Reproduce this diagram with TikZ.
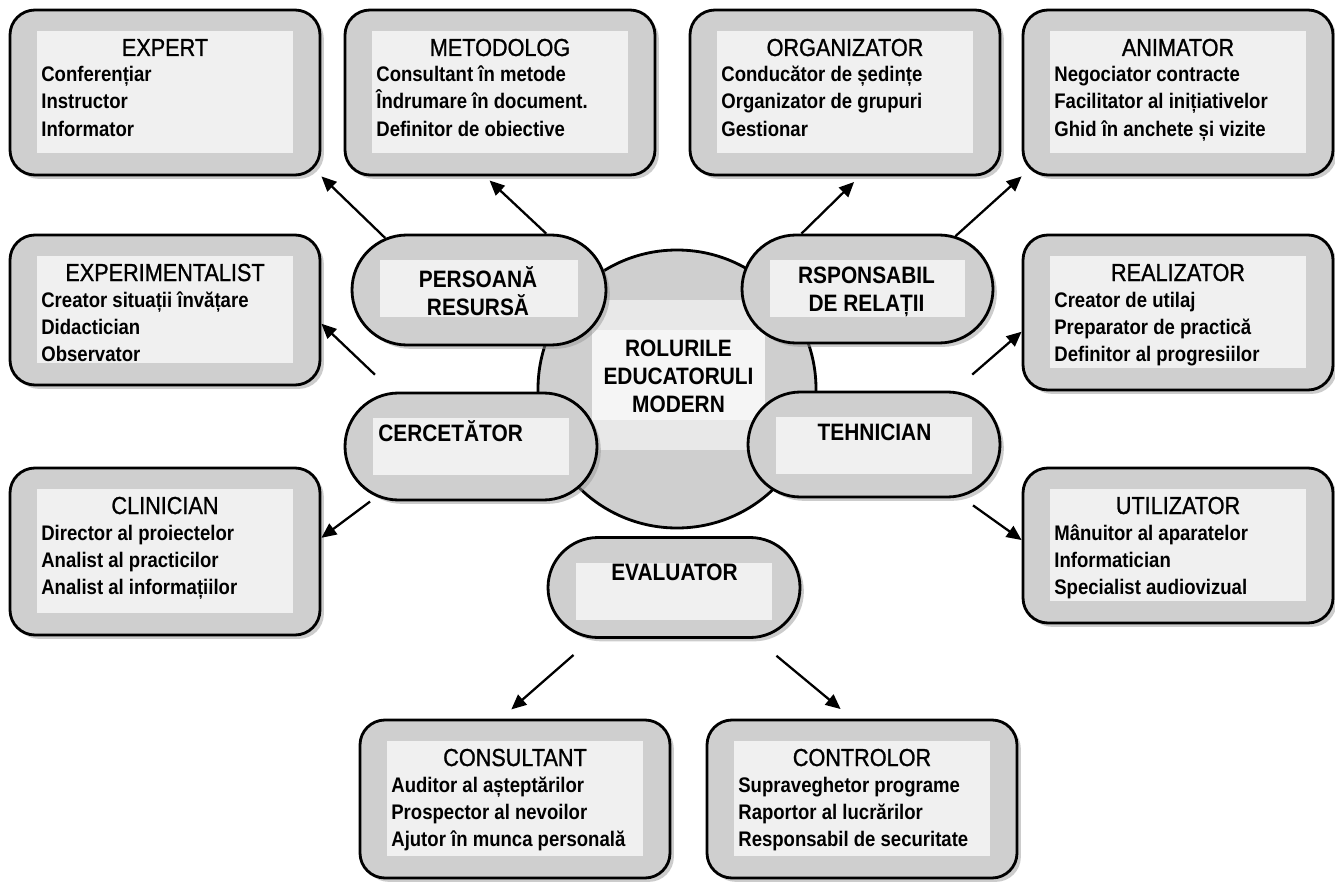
\documentclass[tikz,border=0pt]{standalone}
\usepackage{fontspec}
\setmainfont{Liberation Sans}[FakeStretch=0.88]
\newfontfamily\titlefont{Liberation Sans}[FakeStretch=0.88, FakeBold=1]
\usetikzlibrary{shapes.misc,shadows,arrows.meta}

\definecolor{boxgray}{gray}{0.81}
\definecolor{innergray}{gray}{0.94}

\begin{document}
\begin{tikzpicture}
  [x=0.02cm, y=-0.02cm,
   rolebox/.style={draw, line width=1.6pt, fill=boxgray, rounded corners=0.5cm,
     minimum width=310*0.02cm, inner sep=0pt,
     drop shadow={shadow xshift=2.2pt, shadow yshift=-2.2pt, fill=black!40}},
   pill/.style={rounded rectangle, draw, line width=1.6pt, fill=boxgray, inner sep=0pt,
     drop shadow={shadow xshift=2.2pt, shadow yshift=-2.2pt, fill=black!40}},
   rolefill/.style={fill=innergray},
   ttl/.style={font=\titlefont\fontsize{14}{16}\selectfont, inner sep=0pt},
   itm/.style={font=\bfseries\fontsize{12}{15}\selectfont, inner sep=0pt},
   ptxt/.style={font=\bfseries\fontsize{13.5}{15.9}\selectfont, align=center, inner sep=0pt},
   arr/.style={line width=1.3pt, -{Triangle[length=8.5pt,width=7.5pt]}}]
  \useasboundingbox (0,0) rectangle (1335,882);

  % role boxes
  \foreach \n/\x/\y/\h/\t/\a/\b/\c in {
    expert/10/10/165/EXPERT/Conferențiar/Instructor/Informator,
    metod/345/10/165/METODOLOG/Consultant în metode/Îndrumare în document./Definitor de obiective,
    organiz/690/10/165/ORGANIZATOR/Conducător de ședințe/Organizator de grupuri/Gestionar,
    animat/1023/10/165/ANIMATOR/Negociator contracte/Facilitator al inițiativelor/Ghid în anchete și vizite,
    experim/10/235/150/EXPERIMENTALIST/Creator situații învățare/Didactician/Observator,
    realiz/1023/235/155/REALIZATOR/Creator de utilaj/Preparator de practică/Definitor al progresiilor,
    clinic/10/468/167/CLINICIAN/Director al proiectelor/Analist al practicilor/Analist al informațiilor,
    utiliz/1023/468/155/UTILIZATOR/Mânuitor al aparatelor/Informatician/Specialist audiovizual,
    consult/360/720/158/CONSULTANT/Auditor al așteptărilor/Prospector al nevoilor/Ajutor în munca personală,
    control/707/720/158/CONTROLOR/Supraveghetor programe/Raportor al lucrărilor/Responsabil de securitate}
  {
    \node[rolebox, minimum height=\h*0.02cm] (\n) at (\x+155,\y+\h/2) {};
    \fill[rolefill] (\x+27,\y+21) rectangle (\x+283,\y+\h-22);
    \node[ttl, anchor=base] (\n-t) at (\x+155,\y+46) {\t};
    \node[itm, anchor=base west] (\n-a) at (\x+31,\y+72) {\a};
    \node[itm, anchor=base west] (\n-b) at (\x+31,\y+99) {\b};
    \node[itm, anchor=base west] (\n-c) at (\x+31,\y+126) {\c};
  }

  % centre
  \node[circle, draw, line width=1.6pt, fill=boxgray, minimum size=278*0.02cm] (hub) at (677,389) {};
  \fill[black!9] (592,300) rectangle (765,450);
  \fill[black!4] (592,330) rectangle (765,420);
  \node[ptxt, font=\bfseries\fontsize{13.5}{16}\selectfont] (hub-t) at (678.5,376) {ROLURILE\\EDUCATORULI\\MODERN};

  % roles round the centre
  \foreach \n/\x/\y/\w/\h in {pers/479/290/254/110, cerc/471/446.5/252/107,
    resp/867.5/289/251/108, tehn/874/444.5/252/105, eval/674/587.5/252/100}
  {
    \node[pill, minimum width=\w*0.02cm, minimum height=\h*0.02cm] (\n) at (\x,\y) {};
    \fill[rolefill] (\x-\w/2+28,\y-\h/2+25) rectangle (\x+\w/2-28,\y-\h/2+82);
  }
  \node[ptxt] (pers-t) at (478,291) {PERSOANĂ\\RESURSĂ};
  \node[ptxt] (resp-t) at (866.5,292) {RSPONSABIL\\DE RELAȚII};
  \node[ptxt, anchor=base west] (cerc-t) at (378,441) {CERCETĂTOR};
  \node[ptxt, anchor=base] (tehn-t) at (874.5,440.5) {TEHNICIAN};
  \node[ptxt, anchor=base] (eval-t) at (674.5,580.5) {EVALUATOR};

  % arrows
  \foreach \a/\b/\s/\e in {pers.151/expert.south east/0/0, pers.40/metod.-100/0/6,
    resp.140/organiz.-80/0/8, resp.31/animat.south west/0/0,
    cerc.145/experim.-5/25/0, cerc.208/clinic.5/8/0,
    tehn.34/realiz.187/25/0, tehn.-31/utiliz.178/15/0,
    eval.212/consult.100/25/14, eval.-32/control.97/27/15}
    \draw[arr, shorten <={\s*0.567pt}, shorten >={\e*0.567pt}] (\a) -- (\b);
\end{tikzpicture}
\end{document}
